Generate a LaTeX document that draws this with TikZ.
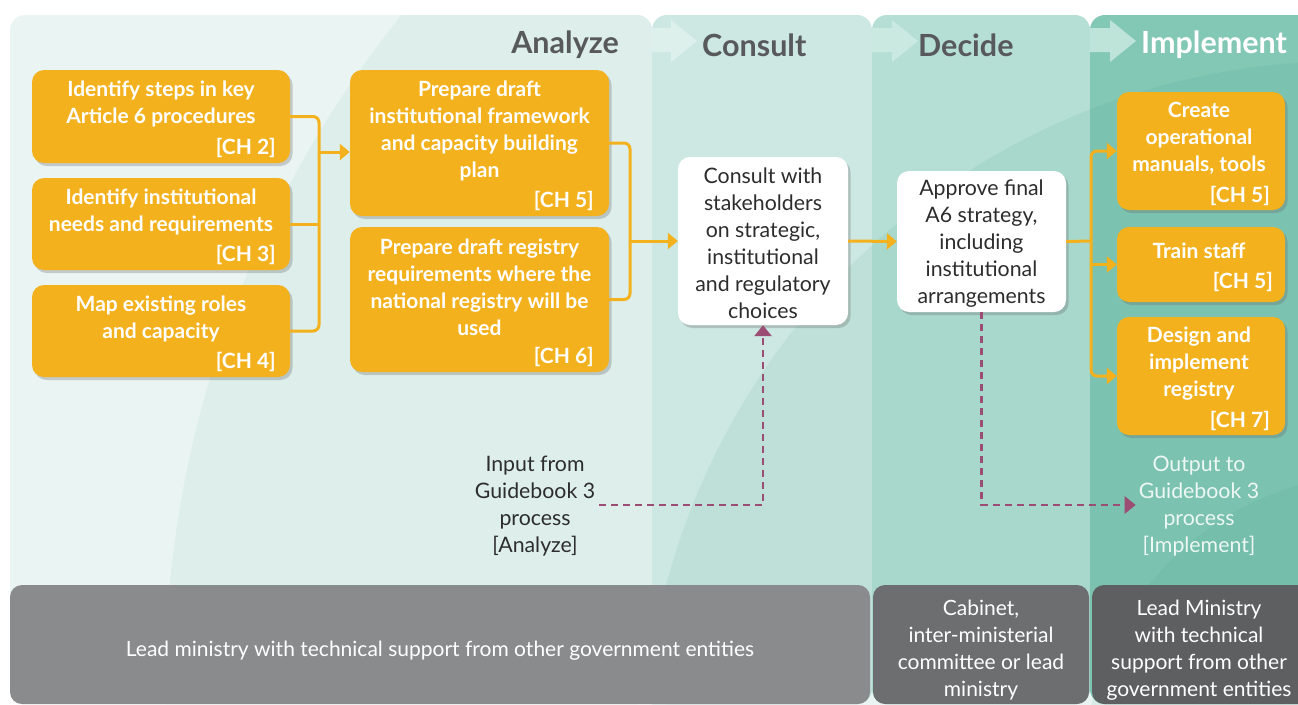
\documentclass[tikz,border=0pt]{standalone}
\usepackage{fontspec}
\setmainfont{Lato}
\usetikzlibrary{arrows.meta,shadows,calc}
\definecolor{orangeC}{HTML}{F3B11D}
\definecolor{panAL}{HTML}{EAF5F3}
\definecolor{panAM}{HTML}{DEEFEB}
\definecolor{panC}{HTML}{CDE8E2}
\definecolor{panD}{HTML}{B5DFD5}
\definecolor{panI}{HTML}{83C7B5}
\definecolor{tealOv}{HTML}{3A9F85}
\definecolor{chevC}{HTML}{DDF0EC}
\definecolor{chevD}{HTML}{C9E9E1}
\definecolor{chevI}{HTML}{BEE4DA}
\definecolor{grayA}{HTML}{8A8B8D}
\definecolor{grayB}{HTML}{6D6E70}
\definecolor{grayC}{HTML}{5E5F61}
\definecolor{purpleC}{HTML}{9B4D73}
\definecolor{headC}{HTML}{58595B}
\definecolor{darkC}{HTML}{2D2D2D}
\definecolor{outC}{HTML}{EDF7F4}
\begin{document}
\begin{tikzpicture}[x=1pt,y=-1pt,
  shad/.style={drop shadow={shadow xshift=2.5pt,shadow yshift=-3pt,opacity=0.3,fill=black!60}},
  obox/.style={fill=orangeC,rounded corners=12pt,inner sep=0pt,shad},
  wbox/.style={fill=white,rounded corners=12pt,inner sep=0pt,shad},
  gbox/.style={rounded corners=12pt,inner sep=0pt},
  btxt/.style={font=\fontsize{21}{27}\selectfont\bfseries,text=white,align=center,inner sep=0pt},
  chtxt/.style={font=\fontsize{21}{27}\selectfont\bfseries,text=white,anchor=east,inner sep=0pt},
  wtxt/.style={font=\fontsize{21.3}{27}\selectfont,text=darkC,align=center,inner sep=0pt},
  gtxt/.style={font=\fontsize{21}{27}\selectfont,text=white,align=center,inner sep=0pt},
  head/.style={font=\fontsize{30.5}{33}\selectfont\bfseries,text=headC,inner sep=0pt},
  oline/.style={draw=orangeC,line width=3pt,rounded corners=6pt},
  oarrow/.style={oline,-{Triangle[length=10pt,width=16pt]}},
  pdash/.style={draw=purpleC,line width=2.8pt,dash pattern=on 7pt off 5pt,-{Triangle[length=11pt,width=17pt]}}
]
\useasboundingbox (0,0) rectangle (1298,704);
\fill[white] (0,0) rectangle (1298,704);
% panels
\fill[panAL,rounded corners=15pt] (10,704) rectangle (652,15);
\begin{scope}
  \clip[rounded corners=15pt] (10,704) rectangle (652,15);
  \fill[panAM] (1235,686) circle[radius=1070];
\end{scope}
\fill[panC,rounded corners=15pt] (652,704) rectangle (872,15);
\fill[panD,rounded corners=15pt] (872,704) rectangle (1090,15);
\fill[panI,rounded corners=15pt] (1090,704) rectangle (1312,15);
\begin{scope}
  \clip (652,15) rectangle (1298,704);
  \fill[tealOv,opacity=0.10] (1347,765) circle[radius=704];
  \fill[tealOv,opacity=0.10] (1380,770) circle[radius=296];
\end{scope}
% header chevrons
\fill[chevC] (652,28) -- (671,28) -- (671,20) -- (697,41) -- (671,62) -- (671,52) -- (652,52) -- cycle;
\fill[chevD] (872,28) -- (892,28) -- (892,20) -- (918,41) -- (892,62) -- (892,52) -- (872,52) -- cycle;
\fill[chevI] (1090,28) -- (1110,28) -- (1110,20) -- (1136,41) -- (1110,62) -- (1110,52) -- (1090,52) -- cycle;
% headers
\node[head,anchor=east] (hA) at (619,45) {Analyze};
\node[head,anchor=west] (hC) at (702,45) {Consult};
\node[head,anchor=west] (hD) at (918,45) {Decide};
\node[head,anchor=west,text=white] (hI) at (1141,45) {Implement};
% bottom boxes
\fill[grayA,gbox] (10,585) rectangle (870,704);
\fill[grayB,gbox] (873,585) rectangle (1089,704);
\fill[grayC,gbox] (1092,585) rectangle (1310,704);
\node[gtxt] (g1) at (440,650.5) {Lead ministry with technical support from other government entities};
\node[gtxt] (g2) at (981,650.5) {Cabinet,\\inter-ministerial\\committee or lead\\ministry};
\node[gtxt] (g3) at (1199,650.5) {Lead Ministry\\with technical\\support from other\\government entities};
% orange boxes, analyze
\node[obox,minimum width=258pt,minimum height=93pt] (b1) at (161,116.5) {};
\node[btxt] (b1t) at (161,104) {Identify steps in key\\Article 6 procedures};
\node[chtxt] (b1c) at (276,148) {[CH 2]};
\node[obox,minimum width=258pt,minimum height=92pt] (b2) at (161,224) {};
\node[btxt] (b2t) at (161,211.5) {Identify institutional\\needs and requirements};
\node[chtxt] (b2c) at (276,255) {[CH 3]};
\node[obox,minimum width=258pt,minimum height=92pt] (b3) at (161,331) {};
\node[btxt] (b3t) at (161,319) {Map existing roles\\and capacity};
\node[chtxt] (b3c) at (276,362) {[CH 4]};
\node[obox,minimum width=259pt,minimum height=146pt] (b4) at (479.5,143) {};
\node[btxt] (b4t) at (479.5,130.5) {Prepare draft\\institutional framework\\and capacity building\\plan};
\node[chtxt] (b4c) at (594,201) {[CH 5]};
\node[obox,minimum width=259pt,minimum height=145pt] (b5) at (479.5,299.5) {};
\node[btxt] (b5t) at (479.5,287) {Prepare draft registry\\requirements where the\\national registry will be\\used};
\node[chtxt] (b5c) at (594,357) {[CH 6]};
% white boxes
\node[wbox,minimum width=170pt,minimum height=168pt] (co) at (763,241) {};
\node[wtxt] (cot) at (763,243) {Consult with\\stakeholders\\on strategic,\\institutional\\and regulatory\\choices};
\node[wbox,minimum width=169pt,minimum height=141pt] (ap) at (981.5,241.5) {};
\node[wtxt] (apt) at (981.5,243.5) {Approve final\\A6 strategy,\\including\\institutional\\arrangements};
% implement boxes
\node[obox,minimum width=168pt,minimum height=118pt] (cr) at (1201,151) {};
\node[btxt] (crt) at (1199,138.5) {Create\\operational\\manuals, tools};
\node[chtxt] (crc) at (1270,196) {[CH 5]};
\node[obox,minimum width=168pt,minimum height=75pt] (tr) at (1201,264.5) {};
\node[btxt] (trt) at (1199,251) {Train staff};
\node[chtxt] (trc) at (1273,282) {[CH 5]};
\node[obox,minimum width=168pt,minimum height=118pt] (de) at (1201,376) {};
\node[btxt] (det) at (1199,364) {Design and\\implement\\registry};
\node[chtxt] (dec) at (1270,421) {[CH 7]};
% side texts
\node[wtxt,inner sep=4pt] (in) at (535,506) {Input from\\Guidebook 3\\process\\{[Analyze]}};
\node[wtxt,text=outC,inner sep=3pt] (out) at (1199,506) {Output to\\Guidebook 3\\process\\{[Implement]}};
% orange connectors
\coordinate (j1) at (319,152);
\coordinate (j2) at (630,241);
\coordinate (j3) at (1091,241);
\draw[oline] (b1.east) -| (j1);
\draw[oline] (b3.east) -| (j1);
\draw[oline] (b2.east) -- (b2.east -| j1);
\draw[oarrow] (j1) -- (j1 -| b4.west);
\draw[oline] (b4.east) -| (j2);
\draw[oline] (b5.east) -| (j2);
\draw[oarrow] (j2) -- (co.west);
\draw[oarrow] (co.east) -- (ap.west);
\draw[oline] (ap.east) -- (j3);
\draw[oarrow] (j3) |- (cr.west);
\draw[oarrow] (j3) |- (de.west);
\draw[oarrow] (j3 |- tr.west) -- (tr.west);
% purple dashed
\draw[pdash] (in.east |- 0,505) -| (co.south);
\draw[pdash] (ap.south) |- (out.west |- 0,505);
\end{tikzpicture}
\end{document}
